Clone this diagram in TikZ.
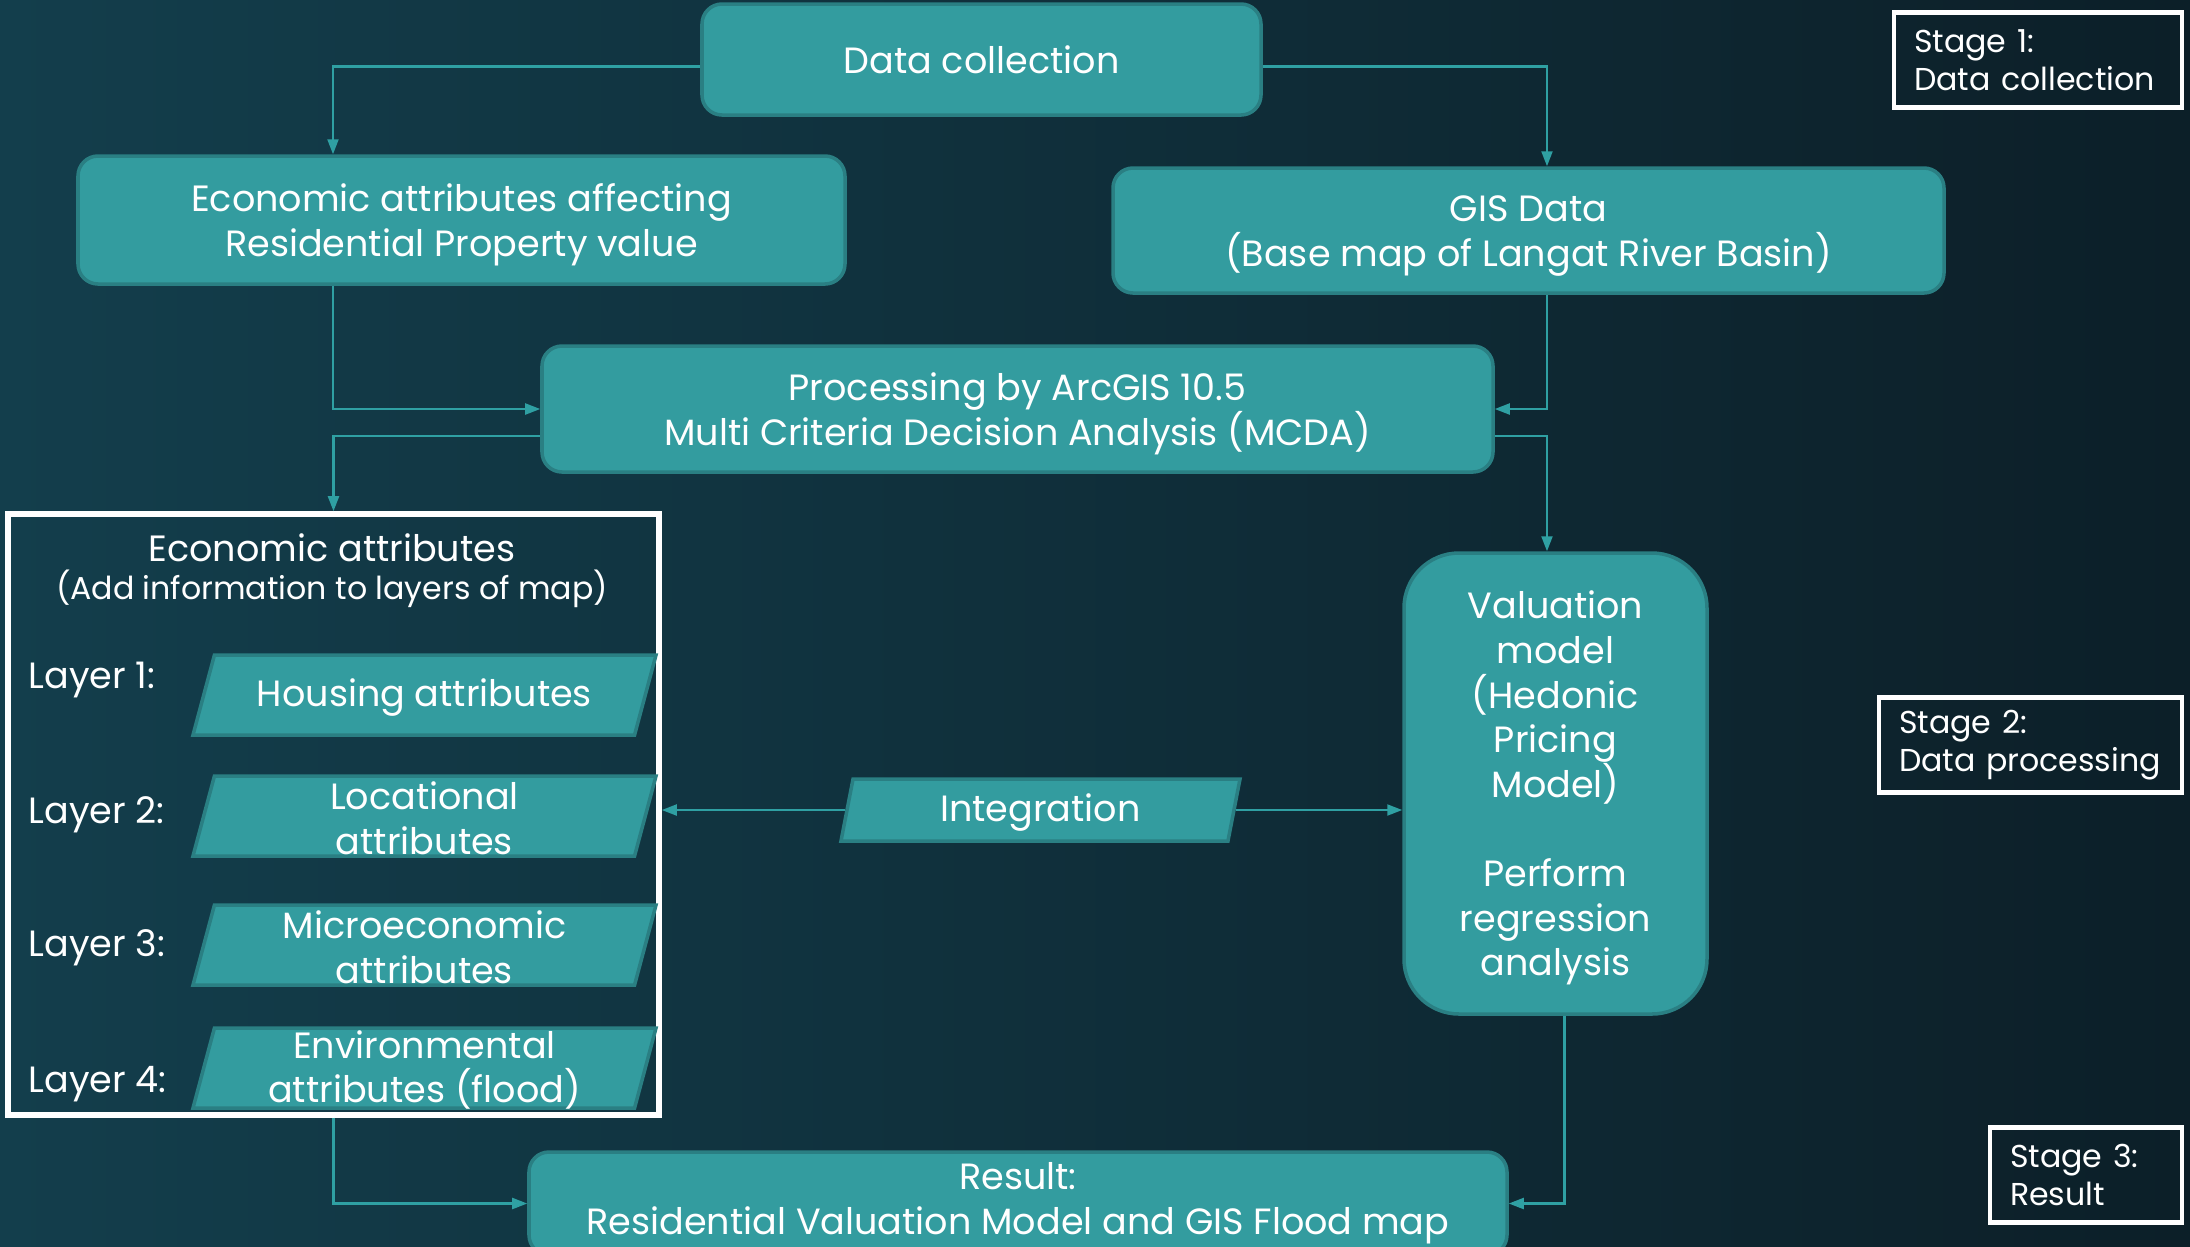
\documentclass[tikz,border=0pt]{standalone}
\usepackage{fontspec}
\setmainfont{Poppins}
\usepackage{tikz}
\usetikzlibrary{arrows.meta, calc, positioning, shapes.geometric}
\definecolor{bgleft}{HTML}{133E4C}
\definecolor{bgright}{HTML}{0C1F28}
\definecolor{boxfill}{HTML}{339C9F}
\definecolor{boxline}{HTML}{2A7F83}
\definecolor{linkcol}{HTML}{2FA0A3}
\tikzset{
  txt/.style={text=white, font=\fontsize{10.4}{12.7}\selectfont, align=center},
  procbox/.style={txt, draw=boxline, line width=1pt, fill=boxfill, rounded corners=0.2cm, inner sep=0pt},
  slantbox/.style={shape=trapezium, trapezium stretches body, draw=boxline, line width=1pt,
    fill=boxfill, inner sep=0pt},
  layerbox/.style={slantbox, trapezium left angle=75, trapezium right angle=105, minimum width=4.63cm},
  integbox/.style={slantbox, trapezium left angle=79, trapezium right angle=101, minimum width=3.99cm},
  layerlabel/.style={txt, anchor=west, inner sep=0pt},
  stagebox/.style={draw=white, line width=1.2pt, text=white, font=\fontsize{9}{10.7}\selectfont,
    align=left, inner xsep=0.2cm, minimum height=0.95cm},
  link/.style={draw=linkcol, line width=0.6pt, -{Triangle[length=0.15cm,width=0.11cm]}},
}
\begin{document}
\begin{tikzpicture}
  \clip (0,0) rectangle (21.9,-12.46);
  \shade[left color=bgleft, right color=bgright] (0,0) rectangle (21.9,-12.46);

  \node[procbox, minimum width=5.59cm, minimum height=1.11cm] (datac) at (9.815,-0.595) {Data collection};
  \node[procbox, minimum width=7.67cm, minimum height=1.28cm] (econ) at (4.615,-2.20) {\rule{0pt}{10.6pt}Economic attributes affecting\\Residential Property value};
  \node[procbox, minimum width=8.31cm, minimum height=1.25cm] (gis) at (15.285,-2.305) {\rule{0pt}{10.6pt}GIS Data\\(Base map of Langat River Basin)};
  \node[procbox, minimum width=9.51cm, minimum height=1.26cm] (proc) at (10.175,-4.09) {\rule{0pt}{10.6pt}Processing by ArcGIS 10.5\\Multi Criteria Decision Analysis (MCDA)};
  \node[procbox, rounded corners=0.55cm, minimum width=3.03cm, minimum height=4.61cm] (valu) at (15.555,-7.835)
    {\rule{0pt}{10.6pt}Valuation\\model\\(Hedonic\\Pricing\\Model)\\[12.7pt]Perform\\regression\\analysis};
  \node[procbox, minimum width=9.78cm, minimum height=1.03cm] (result) at (10.18,-12.035) {Result:\\Residential Valuation Model and GIS Flood map};

  \node[draw=white, line width=1.6pt, minimum width=6.51cm, minimum height=6.01cm] (ecoframe) at (3.335,-8.145) {};
  \node[txt] (frtitle) at (3.32,-5.48) {Economic attributes};
  \node[txt, font=\fontsize{9}{11}\selectfont] (frsub) at (3.32,-5.89) {(Add information to layers of map)};

  \node[layerbox, label={[txt, yshift=-0.03cm]center:Housing attributes}] (lay1) at (4.245,-6.95) {\rule{0pt}{0.8cm}};
  \node[layerbox, label={[txt, yshift=-0.02cm]center:Locational\\attributes}] (lay2) at (4.245,-8.16) {\rule{0pt}{0.8cm}};
  \node[layerbox, label={[txt, yshift=-0.02cm]center:Microeconomic\\attributes}] (lay3) at (4.245,-9.45) {\rule{0pt}{0.8cm}};
  \node[layerbox, label={[txt, yshift=-0.02cm]center:Environmental\\attributes (flood)}] (lay4) at (4.245,-10.68) {\rule{0pt}{0.8cm}};
  \node[layerlabel] (lab1) at (0.28,-6.80) {Layer 1:};
  \node[layerlabel] (lab2) at (0.28,-8.15) {Layer 2:};
  \node[layerlabel] (lab3) at (0.28,-9.48) {Layer 3:};
  \node[layerlabel] (lab4) at (0.28,-10.84) {Layer 4:};

  \node[integbox, label={[txt, yshift=-0.03cm]center:Integration}] (integ) at (10.405,-8.10) {\rule{0pt}{0.62cm}};

  \node[stagebox, minimum width=2.88cm, text width=2.48cm] (stage1) at (20.38,-0.60) {Stage 1:\\Data collection};
  \node[stagebox, minimum width=3.03cm, text width=2.63cm] (stage2) at (20.305,-7.45) {Stage 2:\\Data processing};
  \node[stagebox, minimum width=1.92cm, text width=1.52cm] (stage3) at (20.86,-11.75) {Stage 3:\\Result};

  \coordinate (lx) at (3.33,0);
  \coordinate (rx) at (15.47,0);
  \draw[link] ([yshift=-0.07cm]datac.west) -| (lx |- econ.north);
  \draw[link] ([yshift=-0.07cm]datac.east) -| (rx |- gis.north);
  \draw[link] (lx |- econ.south) -- (lx |- proc.west) -- (proc.west);
  \draw[link] (rx |- gis.south) -- (rx |- proc.east) -- (proc.east);
  \draw[link] ([yshift=-0.27cm]proc.west) -| (ecoframe.north);
  \draw[link] ([yshift=-0.27cm]proc.east) -| (rx |- valu.north);
  \draw[link] (integ.west) -- (integ.west -| ecoframe.east);
  \draw[link] (integ.east) -- (integ.east -| valu.west);
  \draw[link] (ecoframe.south) |- (result.west);
  \draw[link] ([xshift=0.09cm]valu.south) |- (result.east);
\end{tikzpicture}
\end{document}
